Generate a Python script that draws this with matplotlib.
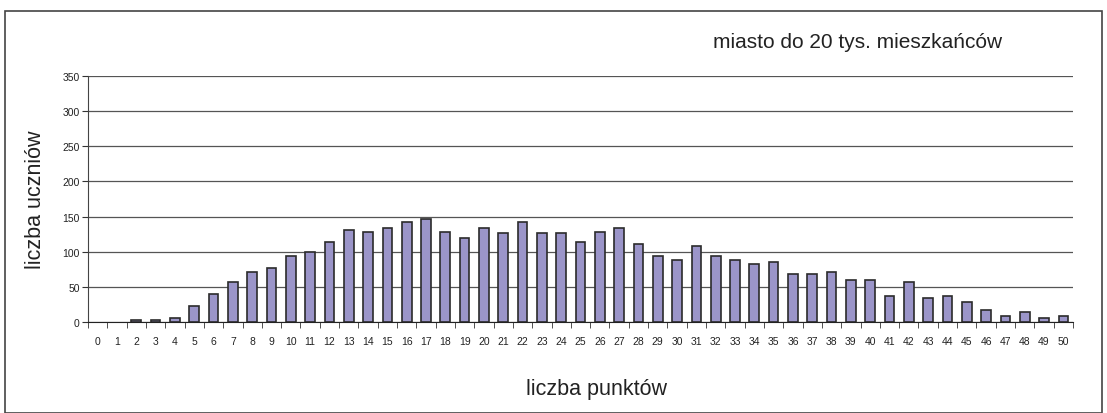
import numpy as np
import matplotlib.pyplot as plt
from matplotlib.patches import Rectangle

plt.rcParams['font.family'] = ['Liberation Sans', 'DejaVu Sans']

# number of points scored (0..50) and number of pupils
punkty = list(range(0, 51))
uczniowie = [0, 0, 3, 3, 6, 23, 40, 57, 71, 77,
             94, 100, 114, 131, 128, 134, 142, 147, 128, 119,
             134, 126, 142, 126, 126, 114, 128, 134, 111, 94,
             88, 108, 94, 88, 82, 86, 68, 68, 71, 60,
             60, 37, 57, 34, 37, 28, 17, 9, 14, 6,
             9]

fig = plt.figure(figsize=(11.07, 4.14), dpi=100)
ax = fig.add_axes([88/1107, 1 - 323/414, (1073-88)/1107, (323-77)/414])

lw = [0 if v == 0 else 1.2 for v in uczniowie]
ax.bar(punkty, uczniowie, width=0.5, color='#9b95c9', edgecolor='#2b2b2b', linewidth=lw, zorder=3)

ax.set_xlim(-0.5, 50.5)
ax.set_ylim(0, 350)
ax.set_yticks(range(0, 351, 50))
ax.set_xticks(punkty)
ax.set_xticklabels([str(p) for p in punkty], fontsize=7.5, color='#222')
ax.set_xticks(np.arange(-0.5, 51, 1), minor=True)
ax.tick_params(axis='x', which='major', length=0, pad=10)
ax.tick_params(axis='x', which='minor', length=4, color='#333')
ax.tick_params(axis='y', length=4, color='#333', labelsize=7.5, labelcolor='#222', pad=2)
ax.yaxis.grid(True, color='#555', linewidth=0.9, zorder=0)
for s in ['top', 'right']:
    ax.spines[s].set_visible(False)
ax.spines['left'].set_color('#444')
ax.spines['bottom'].set_color('#222')

ax.set_xlabel('liczba punktów', fontsize=15.5, color='#222')
ax.xaxis.set_label_coords((597-88)/985, -(389-323)/246)
ax.xaxis.label.set_va('center')
ax.set_ylabel('liczba uczniów', fontsize=15.5, color='#222', labelpad=12)
fig.text(858/1107, 1 - 42/414, 'miasto do 20 tys. mieszkańców', fontsize=15,
         color='#222', ha='center', va='center')

# outer frame of the figure
fig.patches.append(Rectangle((5/1107, 0.0), 1097/1107, 1 - 12/414, transform=fig.transFigure,
                             fill=False, edgecolor='#444', linewidth=1.2))

fig.savefig('out.png', dpi=100)
